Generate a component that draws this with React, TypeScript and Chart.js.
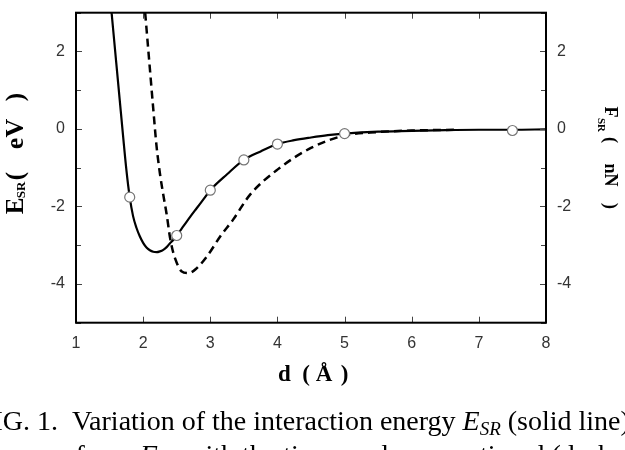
import { useEffect, useRef } from "react";
import { Chart, registerables } from "chart.js";

Chart.register(...registerables);

// Short-range interaction energy E_SR (eV) versus tip-sample separation d (Å)
const distanceSolid = [1.53, 1.6, 1.65, 1.7, 1.75, 1.8, 1.85, 1.9, 1.95, 2.0, 2.05, 2.1, 2.15, 2.2, 2.25, 2.3, 2.35, 2.4, 2.45, 2.5, 2.6, 2.7, 2.8, 2.9, 3.0, 3.25, 3.5, 3.75, 4.0, 4.25, 4.5, 4.75, 5.0, 5.5, 6.0, 6.5, 7.0, 7.5, 8.0];
const energy = [3.0, 1.7, 0.77, -0.16, -1.05, -1.76, -2.25, -2.55, -2.77, -2.94, -3.06, -3.13, -3.17, -3.18, -3.16, -3.12, -3.05, -2.95, -2.86, -2.75, -2.51, -2.27, -2.04, -1.81, -1.58, -1.17, -0.8, -0.58, -0.39, -0.29, -0.22, -0.16, -0.12, -0.07, -0.05, -0.03, -0.02, -0.02, -0.01];

// Short-range force F_SR (nN) versus d (Å)
const distanceDashed = [2.03, 2.1, 2.15, 2.2, 2.25, 2.3, 2.35, 2.4, 2.45, 2.5, 2.57, 2.68, 2.8, 2.95, 3.15, 3.34, 3.59, 4.0, 4.5, 5.0, 5.5, 6.0, 6.7];
const force = [3.0, 1.56, 0.53, -0.45, -1.15, -1.7, -2.2, -2.8, -3.2, -3.45, -3.67, -3.72, -3.59, -3.29, -2.77, -2.34, -1.7, -1.05, -0.49, -0.17, -0.08, -0.04, -0.02];

// Computed energies marked with open circles
const distanceMarked = [1.8, 2.5, 3.0, 3.5, 4.0, 5.0, 7.5];
const energyMarked = [-1.76, -2.75, -1.58, -0.8, -0.39, -0.12, -0.04];

// Axis ranges and labelled ticks
const xRange = [1, 8];
const yRange = [-5, 3];
const yLabelled = [-4, -2, 0, 2];

const SANS = "'Liberation Sans', Arial, sans-serif";
const SERIF = "'Liberation Serif', 'Times New Roman', serif";

type Piece = { text: string; at: number; size: number; shift?: number };

function drawRotated(ctx: CanvasRenderingContext2D, baseX: number, angle: number, pieces: Piece[]) {
  for (const p of pieces) {
    ctx.save();
    ctx.translate(baseX, p.at);
    ctx.rotate(angle);
    ctx.font = `bold ${p.size}px ${SERIF}`;
    ctx.textAlign = "center";
    ctx.textBaseline = "alphabetic";
    ctx.fillText(p.text, 0, p.shift || 0);
    ctx.restore();
  }
}

type Run = [string, string, number];

function drawRuns(ctx: CanvasRenderingContext2D, x: number, y: number, runs: Run[]) {
  for (const [t, f, s] of runs) {
    ctx.font = f;
    ctx.fillText(t, x, y + s);
    x += ctx.measureText(t).width;
  }
}

const framePlugin = {
  id: "frameAndLabels",
  afterDatasetsDraw(chart: any) {
    const { ctx, chartArea: a, scales } = chart;
    ctx.save();
    // inward tick marks on all four sides
    ctx.strokeStyle = "#444";
    ctx.lineWidth = 1;
    ctx.beginPath();
    for (const t of scales.x.ticks) {
      const px = Math.round(scales.x.getPixelForValue(t.value)) + 0.5;
      ctx.moveTo(px, a.bottom);
      ctx.lineTo(px, a.bottom - 6);
      ctx.moveTo(px, a.top);
      ctx.lineTo(px, a.top + 6);
    }
    for (const t of scales.y.ticks) {
      const py = Math.round(scales.y.getPixelForValue(t.value)) + 0.5;
      const len = yLabelled.includes(t.value) ? 6 : 5;
      ctx.moveTo(a.left, py);
      ctx.lineTo(a.left + len, py);
      ctx.moveTo(a.right, py);
      ctx.lineTo(a.right - len, py);
    }
    ctx.stroke();
    // frame
    ctx.strokeStyle = "#000";
    ctx.lineWidth = 2;
    ctx.strokeRect(a.left, a.top, a.right - a.left, a.bottom - a.top);
    ctx.restore();
  },
  afterDraw(chart: any) {
    const { ctx } = chart;
    ctx.save();
    ctx.fillStyle = "#000";

    // left axis title: E_SR ( eV )
    drawRotated(ctx, 23, -Math.PI / 2, [
      { text: "E", at: 206, size: 25 },
      { text: "SR", at: 190, size: 13, shift: 2 },
      { text: "(", at: 176, size: 25 },
      { text: "eV", at: 134, size: 26 },
      { text: ")", at: 97, size: 25 },
    ]);

    // right axis title: F_SR ( nN )
    drawRotated(ctx, 605, Math.PI / 2, [
      { text: "F", at: 112, size: 18 },
      { text: "SR", at: 125, size: 11, shift: 7 },
      { text: "(", at: 140, size: 18 },
      { text: "nN", at: 175, size: 18 },
      { text: ")", at: 206, size: 18 },
    ]);

    // bottom axis title: d ( Å )
    ctx.font = `bold 23px ${SERIF}`;
    ctx.textAlign = "center";
    ctx.textBaseline = "alphabetic";
    ctx.fillText("d", 284.5, 381);
    ctx.fillText("(", 306, 381);
    ctx.fillText("Å", 324, 381);
    ctx.fillText(")", 344.5, 381);

    // figure caption
    ctx.textAlign = "left";
    const reg = `28px ${SERIF}`;
    const ital = `italic 28px ${SERIF}`;
    const sub = `italic 19px ${SERIF}`;
    const x1 = 72;
    const y1 = 430;
    ctx.font = reg;
    const prefix = "FIG. 1.  ";
    ctx.fillText(prefix, x1 - ctx.measureText(prefix).width, y1);
    drawRuns(ctx, x1, y1, [
      ["Variation of the interaction energy ", reg, 0],
      ["E", ital, 0],
      ["SR", sub, 5],
      [" (solid line)", reg, 0],
    ]);
    ctx.font = reg;
    const lead = "force ";
    drawRuns(ctx, 140 - ctx.measureText(lead).width, 464, [
      [lead, reg, 0],
      ["F", ital, 0],
      ["SR", sub, 5],
      [" with the tip-sample separation d (dashed line).", reg, 0],
    ]);
    ctx.restore();
  },
};

export default function App() {
  const ref = useRef<HTMLCanvasElement | null>(null);

  useEffect(() => {
    if (!ref.current) return;
    const tickFont = { family: SANS, size: 16 };
    const evenOnly = (v: any) => (yLabelled.includes(Number(v)) ? String(v) : "");
    const fitY = (w: number) => (s: any) => {
      s.width = w;
      s.paddingTop = 0;
      s.paddingBottom = 0;
    };
    const chart = new Chart(ref.current, {
      type: "line",
      data: {
        datasets: [
          {
            label: "computed",
            data: distanceMarked.map((d, i) => ({ x: d, y: energyMarked[i] })),
            showLine: false,
            pointRadius: 5,
            pointBackgroundColor: "#fff",
            pointBorderColor: "#777",
            pointBorderWidth: 1.2,
            yAxisID: "y",
          },
          {
            label: "E_SR",
            data: distanceSolid.map((d, i) => ({ x: d, y: energy[i] })),
            borderColor: "#000",
            borderWidth: 2.2,
            pointRadius: 0,
            cubicInterpolationMode: "monotone",
            yAxisID: "y",
          },
          {
            label: "F_SR",
            data: distanceDashed.map((d, i) => ({ x: d, y: force[i] })),
            borderColor: "#000",
            borderWidth: 2.5,
            borderDash: [8, 5],
            pointRadius: 0,
            cubicInterpolationMode: "monotone",
            yAxisID: "y2",
          },
        ],
      },
      options: {
        animation: false,
        responsive: false,
        devicePixelRatio: 1,
        layout: { padding: { top: 12.7, left: 0, right: 0, bottom: 0 } },
        plugins: { legend: { display: false }, tooltip: { enabled: false } },
        scales: {
          x: {
            type: "linear",
            min: xRange[0],
            max: xRange[1],
            grid: { display: false, drawTicks: false },
            border: { display: false },
            ticks: { stepSize: 1, font: tickFont, color: "#333", padding: 11, maxRotation: 0 },
            afterFit: (s: any) => {
              s.height = 450 - 322.7;
              s.paddingLeft = 0;
              s.paddingRight = 0;
            },
          },
          y: {
            position: "left",
            min: yRange[0],
            max: yRange[1],
            grid: { display: false, drawTicks: false },
            border: { display: false },
            ticks: { stepSize: 1, font: tickFont, color: "#333", padding: 11, callback: evenOnly, autoSkip: false },
            afterFit: fitY(76),
          },
          y2: {
            position: "right",
            min: yRange[0],
            max: yRange[1],
            grid: { display: false, drawTicks: false },
            border: { display: false },
            ticks: { stepSize: 1, font: tickFont, color: "#333", padding: 11, callback: evenOnly, autoSkip: false },
            afterFit: fitY(625 - 546),
          },
        },
      },
      plugins: [framePlugin],
    } as any);
    return () => chart.destroy();
  }, []);

  return (
    <div style={{ position: "fixed", left: 0, top: 0, width: 625, height: 450, background: "#fff" }}>
      <canvas ref={ref} width={625} height={450} style={{ display: "block" }} />
    </div>
  );
}
